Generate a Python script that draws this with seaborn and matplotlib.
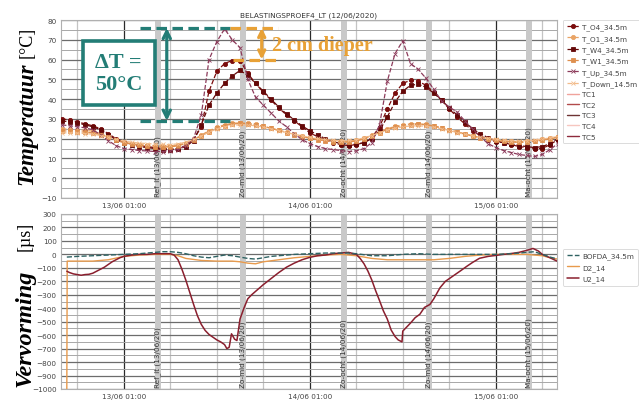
import numpy as np
import pandas as pd
import matplotlib
matplotlib.use("Agg")
import matplotlib.pyplot as plt
import matplotlib.dates as mdates
from matplotlib.patches import Rectangle
from matplotlib.ticker import MultipleLocator
import seaborn as sns

# ---------------- data ----------------
START = "2020-06-13 01:00"          # hour 0 of the arrays below
temp_hours = list(range(-8, 57))    # hourly samples, 12/06 17:00 .. 15/06 09:00

T_O4 = [30.0, 29.5, 28.5, 27.5, 26.5, 25.0, 22.5, 20.0,
        18.5, 17.5, 16.5, 16.0, 15.5, 15.0, 14.8, 15.0,
        16.5, 19.5, 26.0, 44.0, 54.0, 58.0, 59.5, 59.5,
        53.0, 48.0, 43.5, 39.5, 35.5, 32.0, 29.0, 26.0,
        23.0, 21.0, 19.5, 18.0, 17.0, 16.5, 17.0, 18.0,
        20.5, 26.0, 35.0, 43.0, 48.0, 49.5, 49.0, 47.0,
        43.5, 39.5, 35.0, 31.0, 27.5, 24.0, 21.5, 19.5,
        18.5, 18.0, 17.0, 16.0, 15.5, 15.0, 15.0, 17.0,
        19.5]
T_O1 = [25.0, 24.8, 24.5, 24.2, 23.8, 22.5, 21.0, 19.5,
        18.3, 17.5, 17.0, 16.8, 16.5, 16.3, 16.2, 16.8,
        17.8, 19.5, 21.8, 24.0, 25.8, 27.0, 27.8, 28.0,
        27.8, 27.2, 26.3, 25.3, 24.3, 23.2, 22.2, 21.3,
        20.5, 19.8, 19.2, 18.8, 18.6, 18.7, 19.2, 20.3,
        21.8, 23.5, 25.0, 26.2, 27.0, 27.5, 27.6, 27.2,
        26.5, 25.6, 24.6, 23.5, 22.5, 21.5, 20.6, 19.9,
        19.3, 18.9, 18.6, 18.5, 18.6, 19.0, 19.6, 20.3,
        21.0]
T_W4 = [29.0, 28.5, 28.0, 27.0, 26.0, 24.5, 22.0, 19.5,
        18.0, 17.0, 16.0, 15.5, 15.0, 14.5, 14.3, 14.8,
        16.0, 19.0, 27.0, 37.0, 43.0, 48.0, 51.7, 54.5,
        52.0, 48.0, 44.0, 40.0, 36.0, 32.5, 29.5, 26.5,
        24.0, 22.0, 20.0, 18.5, 17.5, 17.0, 17.2, 18.0,
        20.0, 24.0, 31.0, 38.5, 44.0, 47.0, 47.5, 46.0,
        43.0, 39.5, 35.5, 32.0, 28.5, 25.0, 22.5, 20.5,
        19.0, 18.0, 17.5, 16.5, 16.0, 15.5, 16.0, 17.5,
        20.0]
T_W1 = [24.0, 23.8, 23.6, 23.3, 23.0, 22.0, 20.6, 19.2,
        18.0, 17.2, 16.6, 16.3, 16.0, 15.8, 15.8, 16.4,
        17.5, 19.2, 21.5, 23.6, 25.4, 26.6, 27.4, 27.7,
        27.6, 27.0, 26.2, 25.2, 24.2, 23.1, 22.0, 21.0,
        20.2, 19.5, 18.9, 18.4, 18.2, 18.3, 18.8, 19.9,
        21.4, 23.1, 24.6, 25.8, 26.6, 27.1, 27.3, 27.0,
        26.3, 25.4, 24.4, 23.3, 22.3, 21.3, 20.4, 19.7,
        19.1, 18.6, 18.3, 18.1, 18.2, 18.6, 19.2, 19.9,
        20.6]
T_Up = [27.0, 26.5, 26.0, 25.5, 24.5, 22.0, 19.0, 16.5,
        15.0, 14.5, 14.0, 13.8, 13.5, 13.5, 13.8, 14.5,
        16.5, 20.0, 32.0, 60.0, 69.0, 75.5, 70.0, 66.0,
        50.0, 41.0, 37.0, 33.0, 29.0, 26.0, 22.5, 19.5,
        17.5, 16.0, 15.0, 14.5, 14.0, 13.5, 13.8, 15.0,
        18.0, 27.0, 49.0, 63.0, 69.5, 58.0, 55.0, 50.5,
        45.0, 39.0, 36.0, 33.5, 29.0, 25.0, 21.0, 17.5,
        15.5, 14.0, 13.0, 12.0, 11.5, 11.0, 12.0, 14.5,
        17.5]
T_Down = [23.0, 22.9, 22.8, 22.6, 22.3, 21.6, 20.6, 19.6,
          18.8, 18.2, 17.8, 17.5, 17.3, 17.1, 17.0, 17.4,
          18.2, 19.6, 21.4, 23.3, 24.9, 26.0, 26.7, 27.0,
          26.9, 26.5, 25.8, 25.0, 24.1, 23.1, 22.2, 21.4,
          20.7, 20.1, 19.6, 19.2, 19.0, 19.1, 19.5, 20.4,
          21.6, 23.0, 24.3, 25.3, 26.0, 26.4, 26.5, 26.3,
          25.8, 25.0, 24.1, 23.1, 22.2, 21.4, 20.7, 20.1,
          19.6, 19.2, 19.0, 18.9, 19.0, 19.3, 19.8, 20.4,
          21.0]
temp_labels = ["T_O4_34.5m", "T_O1_34.5m", "T_W4_34.5m",
               "T_W1_34.5m", "T_Up_34.5m", "T_Down_14.5m"]
tc_labels = ["TC1", "TC2", "TC3", "TC4", "TC5"]   # no visible data in this window

bofda_hours = [-7.35, -6, -4, -2, 0, 2, 4, 5, 6, 7, 8, 9, 10, 11, 12, 13, 14, 15,
               16, 17, 18, 19, 20, 22, 24, 26, 28, 29, 30, 32, 34, 36, 38, 40,
               42, 44, 46, 48, 50, 52, 53, 54, 55, 56]
bofda_vals = [-20, -15, -10, -5, 0, 5, 15, 20, 20, 15, 5, -10, -20, -25, -15, -5,
              -10, -20, -30, -35, -25, -15, -10, 0, 5, 10, 10, 10, 5, -10, -10, 0,
              5, 0, 0, 0, 0, 0, 5, 15, 20, 0, -20, -35]
d2_hours = [-7.35, -7.3, -6, -4, -2, 0, 2, 4, 6, 7, 8, 10, 12, 14, 15, 16, 17, 18,
            20, 22, 24, 26, 28, 30, 32, 34, 36, 38, 40, 42, 44, 46, 48, 50, 52,
            54, 55, 56]
d2_vals = [-1000, -50, -50, -50, -40, -15, -5, 0, 0, -10, -30, -45, -50, -50, -55,
           -65, -70, -55, -40, -25, -15, -5, 0, -10, -30, -40, -40, -40, -40, -30,
           -15, -5, 0, 0, 0, -10, -25, -35]
u2_hours = [-7.35, -7.0, -6.5, -6.0, -5.5, -5.0, -4.5, -4.0, -3.5, -3.0, -2.5, -2.0,
            -1.5, -1.0, -0.5, 0.0, 1.0, 2.0, 3.0, 4.0, 5.0, 6.0, 6.5, 7.0, 7.5,
            8.0, 8.5, 9.0, 9.5, 10.0, 10.5, 11.0, 11.5, 12.0, 12.5, 13.0, 13.3,
            13.6, 13.9, 14.3, 14.6, 15.0, 15.5, 16.0, 16.5, 17.0, 17.5, 18.0, 19.0,
            20.0, 21.0, 22.0, 23.0, 24.0, 25.0, 26.0, 27.0, 28.0, 29.0, 30.0, 30.5,
            31.0, 31.5, 32.0, 32.5, 33.0, 33.5, 34.0, 34.5, 35.0, 35.4, 35.9, 36.0,
            36.5, 37.0, 37.3, 37.6, 38.2, 38.8, 39.5, 40.0, 40.8, 41.5, 42.5, 43.5,
            44.3, 45.0, 45.9, 47.0, 48.1, 49.0, 50.2, 51.0, 52.0, 52.8, 53.5, 54.0,
            55.0, 55.9]
u2_vals = [-125, -135, -145, -150, -155, -150, -148, -140, -125, -110, -95, -75,
           -55, -40, -25, -15, -5, 0, 0, 5, 5, 5, -5, -40, -110, -190, -280, -370,
           -455, -520, -565, -595, -615, -635, -650, -670, -700, -690, -590, -630,
           -640, -480, -400, -330, -300, -275, -250, -225, -180, -135, -95, -65,
           -40, -22, -10, -5, 5, 10, 15, 0, -30, -70, -124, -190, -270, -343, -420,
           -480, -562, -610, -635, -650, -570, -540, -510, -490, -470, -445, -394,
           -372, -330, -248, -200, -160, -120, -87, -60, -29, -15, -7, 0, 8, 15, 30,
           44, 25, 0, -25, -50]
strain_labels = ["BOFDA_34.5m", "D2_14", "U2_14"]

event_labels = ["Ref_lt (13/06/20)", "Zo-mid (13/06/20)", "Zo-ocht (14/06/20)",
                "Zo-mid (14/06/20)", "Ma-ocht (15/06/20)"]
event_hours = [4.4, 15.35, 28.4, 39.35, 52.3]

dT_high, dT_low, deeper_low = 76, 29, 60     # annotated levels (°C)
dT_text = "ΔT =\n50°C"
deeper_text = "2 cm dieper"
temp_ticks = list(range(-10, 81, 10))
strain_ticks = list(range(-1000, 301, 100))

# ---------------- styling ----------------
sns.set_theme(style="white")
plt.rcParams["font.family"] = ["DejaVu Sans"]
SERIF = ["Liberation Serif", "DejaVu Serif"]
TEAL = "#237d76"
ORANGE = "#e8a136"

W, H = 639, 402
fig = plt.figure(figsize=(W / 100, H / 100), dpi=100)
ax1 = fig.add_axes([61 / W, 1 - 199 / H, 496 / W, 178 / H])
ax2 = fig.add_axes([61 / W, 1 - 390 / H, 496 / W, 175 / H], sharex=ax1)

t0 = pd.Timestamp(START)


def tt(h):
    return t0 + pd.to_timedelta(np.asarray(h, dtype=float), unit="h")


def tnum(h):
    return mdates.date2num(t0 + pd.Timedelta(hours=h))


# ---- temperature panel ----
tx = tt(temp_hours)
styles = [
    (T_O4, "#7a0c0c", "o", 3.0),
    (T_O1, "#e9a466", "o", 3.0),
    (T_W4, "#650808", "s", 2.8),
    (T_W1, "#de8f4e", "s", 2.8),
    (T_Up, "#8c3a5a", "x", 2.2),
    (T_Down, "#f2bb8a", "x", 2.2),
]
for (vals, col, mk, ms), lab in zip(styles, temp_labels):
    sns.lineplot(x=tx, y=vals, ax=ax1, color=col, marker=mk, markersize=ms,
                 markeredgecolor=col, markeredgewidth=0.6, linestyle="--",
                 linewidth=0.9, label=lab, zorder=3)
tc_colors = ["#f0a39c", "#b24a4a", "#6e3434", "#f6c6bf", "#8e2a3c"]
for lab, col in zip(tc_labels, tc_colors):
    ax1.plot([], [], color=col, lw=1.0, label=lab)

# ---- strain panel ----
sns.lineplot(x=tt(bofda_hours), y=bofda_vals, ax=ax2, color="#2f6363",
             linestyle="--", linewidth=1.0, label=strain_labels[0], zorder=4)
sns.lineplot(x=tt(d2_hours), y=d2_vals, ax=ax2, color="#e89a4c",
             linewidth=1.0, label=strain_labels[1], zorder=3)
sns.lineplot(x=tt(u2_hours), y=u2_vals, ax=ax2, color="#8a1f2e",
             linewidth=1.1, label=strain_labels[2], zorder=3)

# ---- common axis styling ----
for ax, ticks, minor, lo, hi in [(ax1, temp_ticks, 5, -10, 80),
                                 (ax2, strain_ticks, 50, -1000, 300)]:
    ax.set_facecolor("white")
    ax.set_ylim(lo, hi)
    ax.set_yticks(ticks)
    ax.yaxis.set_minor_locator(MultipleLocator(minor))
    ax.xaxis.set_major_locator(mdates.HourLocator(byhour=[1]))
    ax.xaxis.set_minor_locator(mdates.HourLocator(byhour=[7, 13, 19]))
    ax.xaxis.set_major_formatter(mdates.DateFormatter("%d/%m %H:%M"))
    ax.grid(which="major", axis="x", color="#2a2a2a", lw=0.9)
    ax.grid(which="minor", axis="x", color="#c4c4c4", lw=0.9)
    ax.grid(which="major", axis="y", color="#6c6c6c", lw=0.9)
    ax.grid(which="minor", axis="y", color="#a8a8a8", lw=0.7)
    ax.set_axisbelow(True)
    ax.tick_params(axis="both", which="both", labelsize=5.2, colors="#444444",
                   length=2, width=0.5, pad=1.2)
    ax.tick_params(axis="x", which="minor", length=0)
    for sp in ax.spines.values():
        sp.set_color("#b0b0b0")
        sp.set_linewidth(0.8)
    ax.set_xlabel("")
    ax.set_ylabel("")
    for h, lab in zip(event_hours, event_labels):
        ax.axvspan(tnum(h - 0.38), tnum(h + 0.38), color="#c9c9c9", zorder=0.6, lw=0)
        ax.text(tnum(h), 0.012, lab, rotation=90, ha="center", va="bottom",
                fontsize=5.2, color="#333333", transform=ax.get_xaxis_transform(),
                zorder=2)

ax1.set_xlim(tnum(-8.1), tnum(55.9))
ax1.set_title("BELASTINGSPROEF4_LT (12/06/2020)", fontsize=5.3, color="#333333", pad=3)

# ---- legends ----
leg_kw = dict(loc="upper left", fontsize=5.2, frameon=True, labelspacing=0.62,
              handlelength=1.7, handletextpad=0.5, borderpad=0.5, borderaxespad=0)
h1, l1 = ax1.get_legend_handles_labels()
leg1 = ax1.legend(h1, l1, bbox_to_anchor=(1.012, 1.0), **leg_kw)
h2, l2 = ax2.get_legend_handles_labels()
leg2 = ax2.legend(h2, l2, bbox_to_anchor=(1.012, 0.80), **leg_kw)
for leg in (leg1, leg2):
    leg.get_frame().set_edgecolor("#cccccc")
    leg.get_frame().set_linewidth(0.6)
    for t in leg.get_texts():
        t.set_color("#444444")

# ---- annotations ----
dash = (3.3, 1.7)
ax1.plot([tnum(2.06), tnum(13.7)], [dT_high, dT_high], color=TEAL, lw=2.3,
         dashes=dash, zorder=6, clip_on=False)
ax1.plot([tnum(2.06), tnum(13.7)], [dT_low, dT_low], color=TEAL, lw=2.3,
         dashes=dash, zorder=6, clip_on=False)
ax1.plot([tnum(13.7), tnum(19.9)], [dT_high, dT_high], color=ORANGE, lw=2.3,
         dashes=dash, zorder=6)
ax1.plot([tnum(14.1), tnum(19.9)], [deeper_low, deeper_low], color=ORANGE, lw=2.3,
         dashes=dash, zorder=6)
ax1.annotate("", xy=(tnum(5.55), dT_high), xytext=(tnum(5.55), dT_low),
             arrowprops=dict(arrowstyle="<->", color=TEAL, lw=2.3,
                             mutation_scale=13, shrinkA=0, shrinkB=0), zorder=6)
ax1.annotate("", xy=(tnum(17.8), dT_high), xytext=(tnum(17.8), deeper_low),
             arrowprops=dict(arrowstyle="<->", color=ORANGE, lw=2.3,
                             mutation_scale=11, shrinkA=0, shrinkB=0), zorder=6)
box = Rectangle((tnum(-5.3), 37.0), tnum(4.0) - tnum(-5.3), 32.4,
                fill=True, facecolor="white", edgecolor=TEAL, lw=2.6, zorder=6)
ax1.add_patch(box)
ax1.text(tnum(-0.65), 53.2, dT_text, ha="center", va="center", fontsize=16,
         fontweight="bold", color=TEAL, family=SERIF, linespacing=1.1, zorder=7)
ax1.text(tnum(19.1), 64.8, deeper_text, ha="left", va="baseline", fontsize=14.5,
         fontweight="bold", color=ORANGE, family=SERIF, zorder=7)

# ---- y labels (mixed style) ----
fig.text(27 / W, 1 - 124 / H, "Temperatuur", rotation=90, ha="center", va="center",
         fontsize=16.5, fontweight="bold", fontstyle="italic", family=SERIF, color="black")
fig.text(27 / W, 1 - 42 / H, "[°C]", rotation=90, ha="center", va="center",
         fontsize=13, family=SERIF, color="black")
fig.text(25 / W, 1 - 328 / H, "Vervorming", rotation=90, ha="center", va="center",
         fontsize=17.5, fontweight="bold", fontstyle="italic", family=SERIF, color="black")
fig.text(25 / W, 1 - 236 / H, "[µs]", rotation=90, ha="center", va="center",
         fontsize=13, family=SERIF, color="black")

fig.savefig("out.png", dpi=100, facecolor="white")
